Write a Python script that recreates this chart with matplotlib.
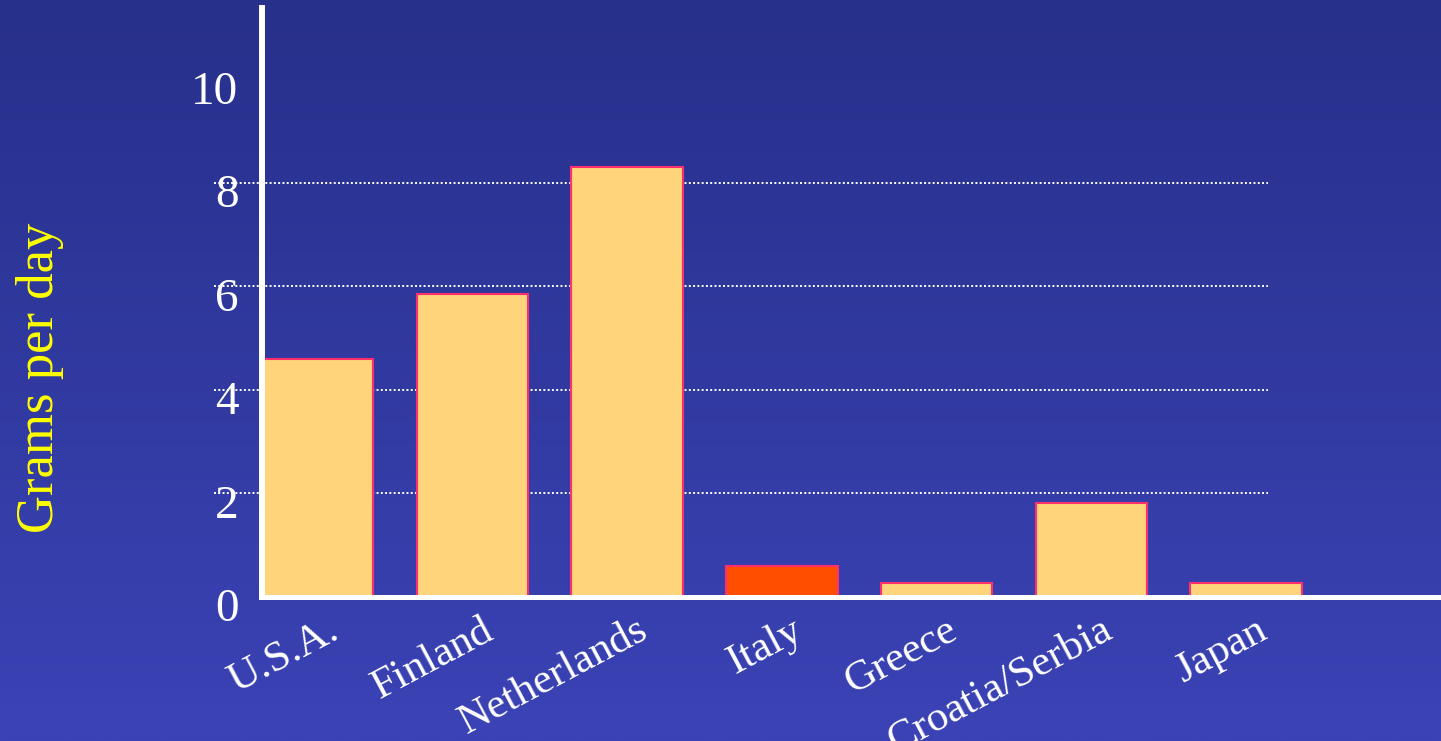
import numpy as np
import matplotlib.pyplot as plt
from matplotlib.colors import LinearSegmentedColormap
from matplotlib.transforms import ScaledTranslation

# daily intake per country
countries = ["U.S.A.", "Finland", "Netherlands", "Italy", "Greece", "Croatia/Serbia", "Japan"]
grams = [4.6, 5.85, 8.3, 0.6, 0.27, 1.82, 0.27]
bar_colors = ["#FFD47A", "#FFD47A", "#FFD47A", "#FF4E00", "#FFD47A", "#FFD47A", "#FFD47A"]
yticks = [0, 2, 4, 6, 8, 10]
gridvals = [2, 4, 6, 8]

serif = ["Liberation Serif", "DejaVu Serif"]
W, H = 1441, 741

fig = plt.figure(figsize=(W / 100, H / 100), dpi=100)

# slide background: vertical blue gradient
bg = fig.add_axes([0, 0, 1, 1], zorder=-10)
grad = np.linspace(0, 1, 256).reshape(-1, 1)
cmap = LinearSegmentedColormap.from_list("slide", ["#27308A", "#3B43B6"])
bg.imshow(grad, aspect="auto", cmap=cmap, extent=[0, 1, 0, 1])
bg.axis("off")

ax = fig.add_axes([262 / W, 1 - 597 / H, 1 - 262 / W, (597 - 8) / H])
ax.patch.set_alpha(0)

x = np.arange(len(countries))
ax.bar(x, grams, width=0.72, color=bar_colors, edgecolor="#FF2E6E",
       linewidth=1.5, zorder=3)
ax.set_xlim(-0.36, 7.26)
ax.set_ylim(0, 11.38)

# dotted guide lines, a bit past the axis on the left
ax.hlines(gridvals, -0.041, 0.853, transform=ax.get_yaxis_transform(),
          colors="white", linestyles=(0, (1, 1.2)), linewidth=1.4,
          clip_on=False, zorder=1)

for side in ["top", "right"]:
    ax.spines[side].set_visible(False)
ax.spines["left"].set_color("white")
ax.spines["left"].set_linewidth(4.3)
ax.spines["bottom"].set_color("white")
ax.spines["bottom"].set_linewidth(3.6)
ax.spines["left"].set_zorder(5)
ax.spines["bottom"].set_zorder(5)

ax.set_yticks(yticks)
ax.set_yticklabels([str(v) for v in yticks], fontsize=34, color="white",
                   family=serif)
ax.tick_params(axis="y", length=0, pad=17)
for lbl in ax.get_yticklabels():
    lbl.set_transform(lbl.get_transform() + ScaledTranslation(0, -0.08, fig.dpi_scale_trans))

ax.set_xticks(x)
ax.set_xticklabels(countries, rotation=28, ha="right", va="top",
                   rotation_mode="anchor", fontsize=31, color="white",
                   family=serif)
ax.tick_params(axis="x", length=0, pad=10)
for lbl in ax.get_xticklabels():
    lbl.set_transform(lbl.get_transform() + ScaledTranslation(0.09, 0, fig.dpi_scale_trans))

fig.text(40 / W, 1 - 378 / H, "Grams per day", rotation=90, ha="center",
         va="center", fontsize=38, color="#FFFF00", family=serif)

fig.savefig("out.png", dpi=100)
